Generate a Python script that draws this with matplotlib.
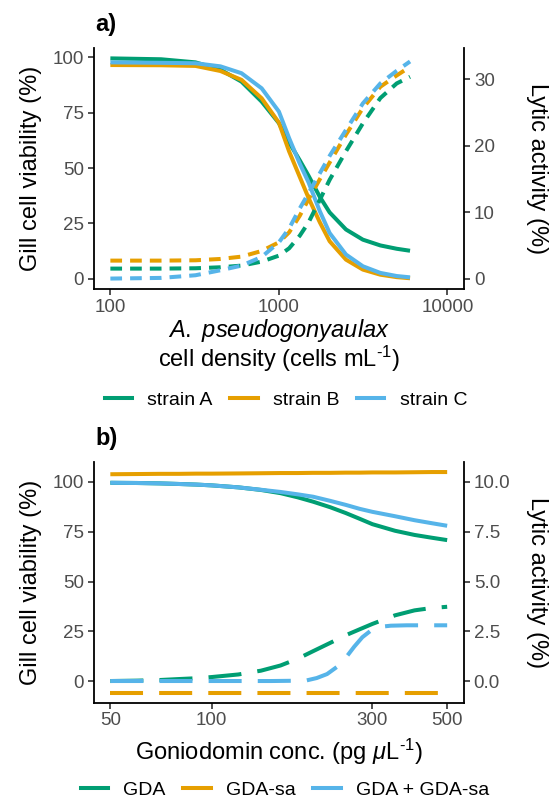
import matplotlib
matplotlib.use('Agg')
import matplotlib.pyplot as plt
from matplotlib.lines import Line2D
from matplotlib.ticker import NullLocator

plt.rcParams['font.family'] = ['Liberation Sans', 'DejaVu Sans']
plt.rcParams['mathtext.fontset'] = 'custom'
plt.rcParams['mathtext.rm'] = 'Liberation Sans'
plt.rcParams['mathtext.it'] = 'Liberation Sans:italic'

# ---- panel a: cell density vs viability / lytic activity
density = [100, 200, 320, 450, 600, 790, 1000, 1150, 1330, 1500, 1750, 2000, 2500, 3150, 4000, 5000, 6000]
via_a = {
    'strain A': [99.5, 99.1, 97.7, 94.4, 89.0, 80.0, 70.3, 61.5, 53.5, 46.5, 37.0, 30.0, 22.3, 17.7, 15.1, 13.6, 12.7],
    'strain B': [96.5, 96.4, 96.1, 93.8, 89.8, 81.5, 70.5, 57.5, 46.0, 36.5, 25.5, 17.0, 8.7, 4.2, 1.9, 0.8, 0.3],
    'strain C': [97.7, 97.5, 97.3, 95.9, 92.8, 86.0, 75.5, 63.5, 52.0, 43.5, 30.5, 20.7, 11.0, 5.7, 2.7, 1.3, 0.7],
}
lyt_a = {
    'strain A': [1.55, 1.55, 1.6, 1.75, 2.0, 2.6, 3.5, 4.6, 6.5, 8.5, 11.9, 14.9, 19.2, 23.4, 27.2, 29.4, 30.4],
    'strain B': [2.75, 2.75, 2.8, 3.0, 3.35, 4.2, 5.5, 7.0, 9.5, 12.0, 15.0, 17.5, 21.7, 25.7, 28.9, 30.6, 31.9],
    'strain C': [0.05, 0.15, 0.55, 1.3, 2.0, 3.3, 5.5, 7.6, 10.6, 12.9, 15.9, 18.5, 22.4, 26.4, 29.4, 31.3, 32.7],
}

# ---- panel b: goniodomin concentration
conc = [50, 60, 70, 80, 90, 100, 120, 140, 160, 180, 200, 225, 250, 275, 300, 350, 400, 450, 500]
via_b = {
    'GDA': [99.6, 99.5, 99.3, 99.0, 98.7, 98.3, 97.3, 96.0, 94.4, 92.3, 90.1, 87.3, 84.4, 81.5, 78.8, 75.5, 73.4, 72.0, 70.8],
    'GDA-sa': [103.9, 104.0, 104.1, 104.1, 104.2, 104.2, 104.3, 104.4, 104.5, 104.5, 104.6, 104.6, 104.7, 104.7, 104.8, 104.8, 104.9, 105.0, 105.0],
    'GDA + GDA-sa': [99.6, 99.5, 99.3, 99.0, 98.7, 98.3, 97.3, 96.1, 95.0, 93.8, 92.6, 90.5, 88.5, 86.5, 85.0, 82.8, 80.8, 79.3, 78.0],
}
lyt_gda = [0, 0.02, 0.05, 0.1, 0.14, 0.2, 0.33, 0.52, 0.78, 1.12, 1.5, 1.92, 2.3, 2.6, 2.87, 3.3, 3.55, 3.67, 3.73]
lyt_sa = [-0.58] * len(conc)
conc_mix = [50, 100, 150, 190, 205, 220, 235, 250, 265, 280, 295, 315, 340, 380, 450, 500]
lyt_mix = [0, 0, 0, 0.02, 0.15, 0.35, 0.7, 1.17, 1.73, 2.2, 2.5, 2.72, 2.78, 2.8, 2.8, 2.8]

colors = ['#009E73', '#E69F00', '#56B4E9']
grey = '#4D4D4D'
LW = 2.9
TICK = 13.5
TITLE = 17

fig = plt.figure(figsize=(5.52, 8.01), dpi=100)


def style(ax, fac, rticks, rfmt):
    ax.spines['top'].set_visible(False)
    ax.spines['right'].set_visible(False)
    ax.spines['left'].set_linewidth(1.3)
    ax.spines['bottom'].set_linewidth(1.3)
    ax.tick_params(length=4.5, width=1.2, colors='#333333', labelcolor=grey, labelsize=TICK, pad=2.5)
    ax.xaxis.set_minor_locator(NullLocator())
    ax.set_yticks([0, 25, 50, 75, 100])
    ax.set_ylabel('Gill cell viability (%)', fontsize=TITLE, va='center')
    ax.yaxis.set_label_coords(-0.1686, 0.5)
    sec = ax.secondary_yaxis('right', functions=(lambda v: v / fac, lambda v: v * fac))
    sec.spines['right'].set_linewidth(1.3)
    sec.tick_params(length=4.5, width=1.2, colors='#333333', labelcolor=grey, labelsize=TICK, pad=2.5)
    sec.set_yticks(rticks)
    sec.set_yticklabels([rfmt.format(t) for t in rticks])
    sec.set_ylabel('Lytic activity (%)', fontsize=TITLE, rotation=270, va='center')
    sec.yaxis.set_label_coords(1.196, 0.5, transform=ax.transAxes)
    return sec


# panel a
ax1 = fig.add_axes([0.1694, 0.6388, 0.6717, 0.3016])
ax1.set_xscale('log')
for (name, v), c in zip(via_a.items(), colors):
    ax1.plot(density, v, color=c, lw=LW, solid_capstyle='butt')
for (name, v), c in zip(lyt_a.items(), colors):
    ln, = ax1.plot(density, [x * 3 for x in v], color=c, lw=LW, dash_capstyle='butt')
    ln.set_dashes([2.9, 2.0])
ax1.set_xlim(10 ** 1.9, 10 ** 4.1)
ax1.set_ylim(-4.7, 104.3)
ax1.set_xticks([100, 1000, 10000], ['100', '1000', '10000'])
style(ax1, 3, [0, 10, 20, 30], '{:.0f}')
ax1.set_xlabel('$\\mathit{A.\\ pseudogonyaulax}$\ncell density (cells mL$^{\\text{-}1}$)', fontsize=TITLE,
               linespacing=1.0, va='center')
ax1.xaxis.set_label_coords(0.5, -0.2326)
fig.text(95 / 552, 1 - 24 / 801, 'a)', fontsize=17, fontweight='bold', va='center')
fig.legend(handles=[Line2D([], [], color=c, lw=LW) for c in colors], labels=list(via_a.keys()),
           loc='center', bbox_to_anchor=(286 / 552, 1 - 400 / 801), ncol=3, frameon=False, fontsize=14,
           handlelength=1.4, handletextpad=0.8, columnspacing=0.9)

# panel b
ax2 = fig.add_axes([0.1694, 0.1227, 0.6712, 0.3009])
ax2.set_xscale('log')
for (name, v), c in zip(via_b.items(), colors):
    ax2.plot(conc, v, color=c, lw=LW, solid_capstyle='butt')
for xs, v, c in [(conc, lyt_gda, colors[0]), (conc, lyt_sa, colors[1]), (conc_mix, lyt_mix, colors[2])]:
    ln, = ax2.plot(xs, [x * 10 for x in v], color=c, lw=LW, dash_capstyle='butt')
    ln.set_dashes([8.2, 4.0])
ax2.set_xlim(10 ** 1.649, 10 ** 2.749)
ax2.set_ylim(-10.9, 110.2)
ax2.set_xticks([50, 100, 300, 500], ['50', '100', '300', '500'])
style(ax2, 10, [0, 2.5, 5, 7.5, 10], '{:.1f}')
ax2.set_xlabel('Goniodomin conc. (pg $\\mu$L$^{\\text{-}1}$)', fontsize=TITLE, va='center')
ax2.xaxis.set_label_coords(0.5, -0.2046)
fig.text(95 / 552, 1 - 439 / 801, 'b)', fontsize=17, fontweight='bold', va='center')
fig.legend(handles=[Line2D([], [], color=c, lw=LW) for c in colors], labels=list(via_b.keys()),
           loc='center', bbox_to_anchor=(285 / 552, 1 - 790 / 801), ncol=3, frameon=False, fontsize=14,
           handlelength=1.4, handletextpad=0.8, columnspacing=0.9)

fig.savefig('out.png', dpi=100)
